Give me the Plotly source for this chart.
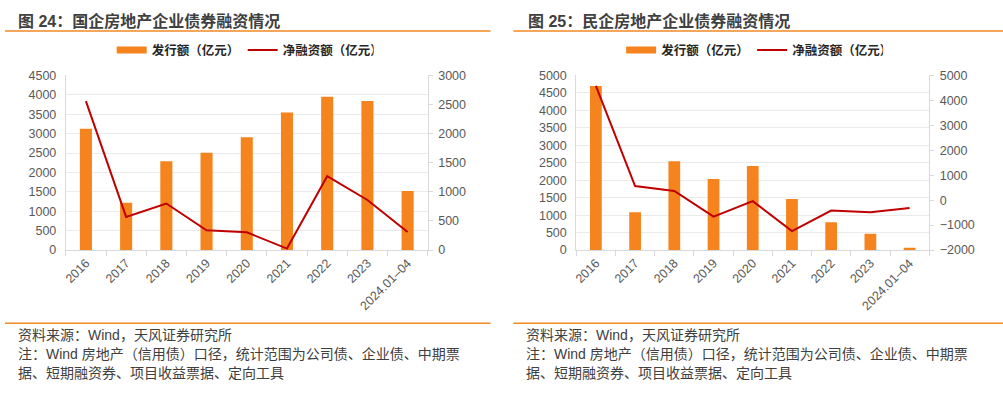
import plotly.graph_objects as go

W, H = 1003, 394

categories = ["2016", "2017", "2018", "2019", "2020", "2021", "2022", "2023", "2024.01–04"]

# 图24 国企
soe_issue = [3130, 1220, 2290, 2510, 2910, 3545, 3950, 3845, 1520]
soe_net = [2560, 570, 800, 340, 305, 25, 1270, 860, 310]

# 图25 民企
poe_issue = [4700, 1080, 2545, 2035, 2405, 1465, 795, 465, 65]
poe_net = [4580, 565, 370, -660, -40, -1240, -415, -480, -310]

left_title = "图 24：国企房地产企业债券融资情况"
right_title = "图 25：民企房地产企业债券融资情况"
bar_name = "发行额（亿元）"
line_name = "净融资额（亿元）"
source_lines = [
    "资料来源：Wind，天风证券研究所",
    "注：Wind 房地产（信用债）口径，统计范围为公司债、企业债、中期票",
    "据、短期融资券、项目收益票据、定向工具",
]

FONT = "Liberation Sans, Arial, Noto Sans CJK SC, sans-serif"
ORANGE = "#F5841F"
RED = "#C00000"
AXIS = "#D9D9D9"
GRID = "#EBEBEB"
TICK = "#595959"


def px_x(p):
    return p / W


def px_y(p):
    return 1 - p / H


fig = go.Figure()

panels = [
    ("x", "y", "y2", "legend", soe_issue, soe_net, "soe"),
    ("x2", "y3", "y4", "legend2", poe_issue, poe_net, "poe"),
]
for xa, ya, ya2, leg, issue, net, grp in panels:
    # legend entry for the bars (wide rectangle swatch like the original)
    fig.add_trace(go.Scatter(x=[None], y=[None], mode="lines", name=bar_name,
                             line=dict(color=ORANGE, width=7), legendgroup=grp + "bar",
                             xaxis=xa, yaxis=ya, legend=leg, hoverinfo="skip"))
    fig.add_trace(go.Bar(x=categories, y=issue, name=bar_name, showlegend=False,
                         legendgroup=grp + "bar", marker=dict(color=ORANGE, line=dict(width=0)),
                         width=0.3, xaxis=xa, yaxis=ya))
    fig.add_trace(go.Scatter(x=categories, y=net, name=line_name, mode="lines",
                             line=dict(color=RED, width=2), xaxis=xa, yaxis=ya2, legend=leg))

ydom = [px_y(252), px_y(71)]
tickfont = dict(family=FONT, size=12.5, color=TICK)

xcommon = dict(type="category", tickson="boundaries", ticks="outside", ticklen=5, tickcolor=AXIS,
               showline=True, linecolor=AXIS, linewidth=1, tickangle=-45, tickfont=tickfont,
               showgrid=False, fixedrange=True)
yleft = dict(showgrid=True, gridcolor=GRID, gridwidth=1, showline=True, linecolor=AXIS, ticks="",
             tickfont=tickfont, zeroline=False, ticklabelstandoff=6, domain=ydom, fixedrange=True)
yright = dict(showgrid=False, showline=True, linecolor=AXIS, ticks="outside", ticklen=4, tickcolor=AXIS,
              tickfont=tickfont, zeroline=False, side="right", ticklabelstandoff=3, fixedrange=True)

legfont = dict(family=FONT, size=12.5, color="#262626", weight="bold")
legcommon = dict(orientation="h", yanchor="middle", xanchor="left", font=legfont, itemwidth=30,
                 entrywidth=86, bgcolor="rgba(0,0,0,0)", y=px_y(45))

fig.update_layout(
    width=W, height=H, margin=dict(l=0, r=0, t=0, b=0),
    paper_bgcolor="white", plot_bgcolor="white",
    font=dict(family=FONT, color="#404040"),
    xaxis=dict(xcommon, domain=[px_x(63), px_x(426)], anchor="y"),
    yaxis=dict(yleft, range=[0, 4500], dtick=500, anchor="x"),
    yaxis2=dict(yright, range=[0, 3000], dtick=500, overlaying="y", anchor="x"),
    xaxis2=dict(xcommon, domain=[px_x(575), px_x(929)], anchor="y3"),
    yaxis3=dict(yleft, range=[0, 5000], dtick=500, anchor="x2"),
    yaxis4=dict(yright, range=[-2000, 5000], dtick=1000, overlaying="y3", anchor="x2"),
    legend=dict(legcommon, x=px_x(109)),
    legend2=dict(legcommon, x=px_x(620)),
)

shapes = []
for x0, x1 in [(2, 489), (512, W)]:
    for yy in (25, 328):
        shapes.append(dict(type="line", xref="paper", yref="paper", x0=px_x(x0), x1=px_x(x1),
                           y0=px_y(yy), y1=px_y(yy), line=dict(color="#F08A24", width=1.5)))
fig.update_layout(shapes=shapes)

ann = []
for xpix, t in [(13, left_title), (525, right_title)]:
    ann.append(dict(text="<b>" + t + "</b>", xref="paper", yref="paper", x=px_x(xpix), y=px_y(14),
                    xanchor="left", yanchor="middle", showarrow=False,
                    font=dict(family=FONT, size=16, color="#404040")))
for xpix in (13, 523):
    for i, line in enumerate(source_lines):
        ann.append(dict(text=line, xref="paper", yref="paper", x=px_x(xpix), y=px_y(340 + 20 * i),
                        xanchor="left", yanchor="middle", showarrow=False,
                        font=dict(family=FONT, size=14, color="#404040")))
fig.update_layout(annotations=ann)

fig.write_html("out.html", config={"displayModeBar": False},
               post_script="document.body.style.margin='0';document.body.style.overflow='hidden';")
